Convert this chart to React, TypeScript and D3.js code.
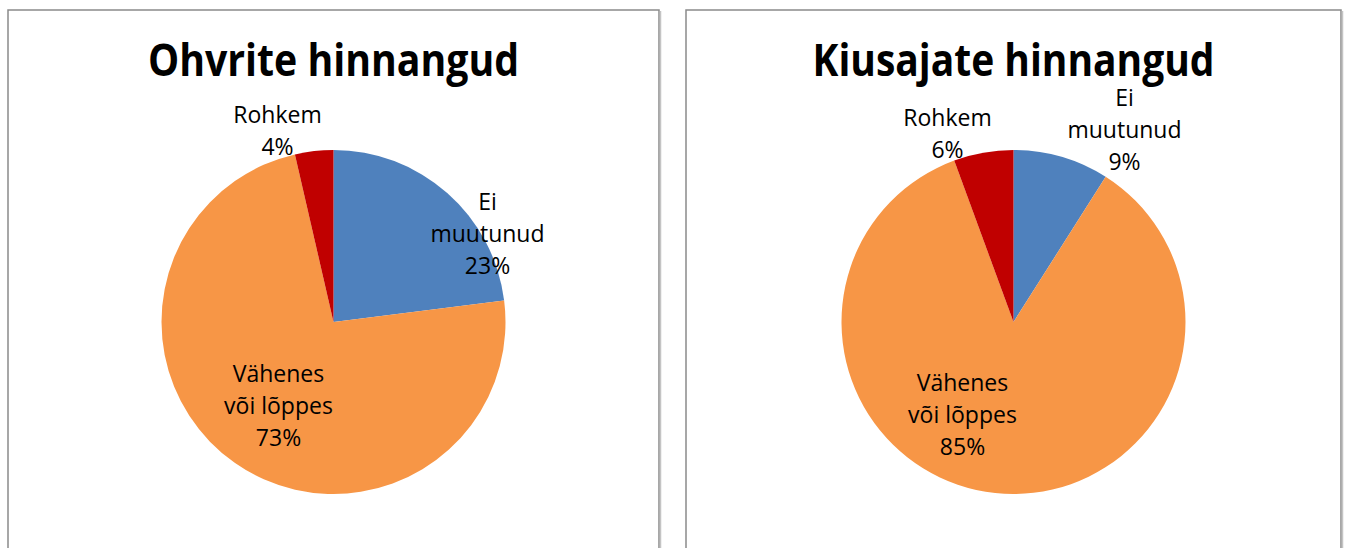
import React from "react";
import * as d3 from "d3";

const categories = ["Ei muutunud", "Vähenes või lõppes", "Rohkem"];
const categoryLines = [["Ei", "muutunud"], ["Vähenes", "või lõppes"], ["Rohkem"]];
const colors = ["#4F81BD", "#F79646", "#C00000"];

const victimValues = [23.0, 73.4, 3.6];
const bullyValues = [9.0, 85.4, 5.6];
const titles = ["Ohvrite hinnangud", "Kiusajate hinnangud"];

// label anchor positions relative to pie center (dx, dy of first baseline)
const victimLabelPos = [[154, -112], [-55, 60], [-56, -199]];
const bullyLabelPos = [[111, -216], [-51, 69], [-66, -196]];

type PanelProps = {
  x: number;
  w: number;
  title: string;
  titleWidth: number;
  values: number[];
  labelPos: number[][];
};

function Panel({ x, w, title, titleWidth, values, labelPos }: PanelProps) {
  const cx = x + w / 2;
  const cy = 322;
  const r = 172;
  const pie = d3.pie<number>().sort(null).value((d) => d);
  const arcs = pie(values);
  const arc = d3.arc<d3.PieArcDatum<number>>().innerRadius(0).outerRadius(r);
  const lh = 32;
  return (
    <g>
      <rect x={x} y={10} width={w} height={560} fill="#fff" stroke="#8a8a8a" strokeWidth={1.5} />
      <line x1={x + w + 1.5} y1={11} x2={x + w + 1.5} y2={560} stroke="#c4c4c4" strokeWidth={1.5} />
      <text
        x={cx}
        y={76}
        textAnchor="middle"
        fontFamily="'Open Sans', sans-serif"
        fontWeight="bold"
        fontSize={45}
        textLength={titleWidth}
        lengthAdjust="spacingAndGlyphs"
        fill="#000"
      >
        {title}
      </text>
      <g transform={`translate(${cx},${cy})`}>
        {arcs.map((a, i) => (
          <path key={i} d={arc(a) || ""} fill={colors[i]} />
        ))}
        {arcs.map((a, i) => {
          const lines = [...categoryLines[i], `${Math.round(values[i])}%`];
          const [dx, dy] = labelPos[i];
          return (
            <text
              key={"l" + i}
              textAnchor="middle"
              fontFamily="'Open Sans', sans-serif"
              fontSize={23}
              fill="#000"
            >
              {lines.map((t, j) => (
                <tspan key={j} x={dx} y={dy + j * lh}>
                  {t}
                </tspan>
              ))}
            </text>
          );
        })}
      </g>
    </g>
  );
}

export default function App() {
  return (
    <svg
      width={1346}
      height={548}
      style={{ position: "absolute", left: 0, top: 0, background: "#fff" }}
    >
      <rect x={0} y={0} width={1346} height={548} fill="#fff" />
      <Panel x={8} w={651} title={titles[0]} titleWidth={371} values={victimValues} labelPos={victimLabelPos} />
      <Panel x={686} w={655} title={titles[1]} titleWidth={402} values={bullyValues} labelPos={bullyLabelPos} />
    </svg>
  );
}
